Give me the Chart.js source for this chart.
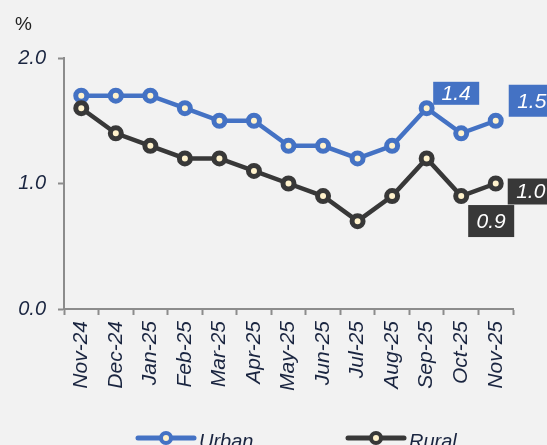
<!DOCTYPE html>
<html>
<head>
<meta charset="utf-8">
<script src="https://cdn.jsdelivr.net/npm/chart.js@4/dist/chart.umd.min.js"></script>
<style>
  body { margin: 0; background: #f2f2f2; }
  canvas { display: block; }
</style>
</head>
<body>
<canvas id="cpiChart" width="547" height="445"></canvas>
<script>
const months = ['Nov-24', 'Dec-24', 'Jan-25', 'Feb-25', 'Mar-25', 'Apr-25', 'May-25',
    'Jun-25', 'Jul-25', 'Aug-25', 'Sep-25', 'Oct-25', 'Nov-25'];
const urban = [1.7, 1.7, 1.7, 1.6, 1.5, 1.5, 1.3, 1.3, 1.2, 1.3, 1.6, 1.4, 1.5];
const rural = [1.6, 1.4, 1.3, 1.2, 1.2, 1.1, 1.0, 0.9, 0.7, 0.9, 1.2, 0.9, 1.0];
const yTicks = [0, 1, 2];

const URBAN_COLOR = '#4472c4';
const RURAL_COLOR = '#383838';
const FONT = "'Liberation Sans', Arial, sans-serif";
const TEXT_COLOR = '#1a2540';

// value boxes: dataset index, point index, offset of box centre from the point
const valueBoxes = [
    { ds: 0, i: 11, dx: -5, dy: -40, w: 46, h: 23 },
    { ds: 0, i: 12, dx: 36, dy: -20, w: 46, h: 32 },
    { ds: 1, i: 12, dx: 35, dy: 8, w: 46, h: 26 },
    { ds: 1, i: 11, dx: 30, dy: 25, w: 46, h: 32 }
];

const extrasPlugin = {
    id: 'extras',
    afterDatasetsDraw(chart) {
        const ctx = chart.ctx;
        ctx.save();
        valueBoxes.forEach(b => {
            const ds = chart.data.datasets[b.ds];
            const pt = chart.getDatasetMeta(b.ds).data[b.i];
            const cx = pt.x + b.dx, cy = pt.y + b.dy;
            ctx.fillStyle = ds.borderColor;
            ctx.fillRect(cx - b.w / 2, cy - b.h / 2, b.w, b.h);
            ctx.fillStyle = '#ffffff';
            ctx.font = 'italic 21px ' + FONT;
            ctx.textAlign = 'center';
            ctx.textBaseline = 'middle';
            ctx.fillText(ds.data[b.i].toFixed(1), cx, cy + 1);
        });

        // % unit above the y axis
        ctx.fillStyle = '#222';
        ctx.font = '19px ' + FONT;
        ctx.textAlign = 'left';
        ctx.textBaseline = 'middle';
        ctx.fillText('%', 15, 25);

        // legend at the bottom
        const items = [
            { x: 138, ds: chart.data.datasets[0] },
            { x: 348, ds: chart.data.datasets[1] }
        ];
        const ly = 438;
        items.forEach(it => {
            ctx.strokeStyle = it.ds.borderColor;
            ctx.lineWidth = 5;
            ctx.lineCap = 'round';
            ctx.beginPath();
            ctx.moveTo(it.x, ly);
            ctx.lineTo(it.x + 56, ly);
            ctx.stroke();
            ctx.beginPath();
            ctx.arc(it.x + 28, ly, 5, 0, Math.PI * 2);
            ctx.fillStyle = '#fff2cc';
            ctx.fill();
            ctx.lineWidth = 4;
            ctx.stroke();
            ctx.fillStyle = TEXT_COLOR;
            ctx.font = 'italic 20px ' + FONT;
            ctx.textAlign = 'left';
            ctx.fillText(it.ds.label, it.x + 61, ly + 4);
        });
        ctx.restore();
    }
};

new Chart(document.getElementById('cpiChart').getContext('2d'), {
    type: 'line',
    data: {
        labels: months,
        datasets: [{
            label: 'Urban',
            data: urban,
            borderColor: URBAN_COLOR,
            borderWidth: 4.5,
            pointRadius: 5.5,
            pointBorderWidth: 5,
            pointBackgroundColor: '#fff2cc',
            pointBorderColor: URBAN_COLOR,
            order: 1
        }, {
            label: 'Rural',
            data: rural,
            borderColor: RURAL_COLOR,
            borderWidth: 4.5,
            pointRadius: 5.5,
            pointBorderWidth: 5,
            pointBackgroundColor: '#fff2cc',
            pointBorderColor: RURAL_COLOR,
            order: 0
        }]
    },
    options: {
        responsive: false,
        animation: false,
        clip: false,
        layout: { padding: { top: 58, right: 34, left: 0, bottom: 0 } },
        plugins: {
            legend: { display: false },
            tooltip: { enabled: false }
        },
        scales: {
            x: {
                offset: true,
                grid: {
                    offset: true,
                    drawOnChartArea: false,
                    tickLength: 6,
                    tickWidth: 2,
                    color: '#8c8c8c'
                },
                border: { color: '#8c8c8c', width: 2 },
                ticks: {
                    maxRotation: 90,
                    minRotation: 90,
                    padding: 6,
                    color: TEXT_COLOR,
                    font: { family: FONT, size: 21, style: 'italic' }
                },
                afterFit(scale) { scale.height = 136; }
            },
            y: {
                min: 0,
                max: 2,
                afterBuildTicks(scale) { scale.ticks = yTicks.map(v => ({ value: v })); },
                grid: {
                    drawOnChartArea: false,
                    tickLength: 6,
                    tickWidth: 2,
                    color: '#8c8c8c'
                },
                border: { color: '#8c8c8c', width: 2 },
                ticks: {
                    padding: 12,
                    color: TEXT_COLOR,
                    font: { family: FONT, size: 20, style: 'italic' },
                    callback: v => v.toFixed(1)
                },
                afterFit(scale) { scale.width = 64; }
            }
        }
    },
    plugins: [extrasPlugin]
});
</script>
</body>
</html>
